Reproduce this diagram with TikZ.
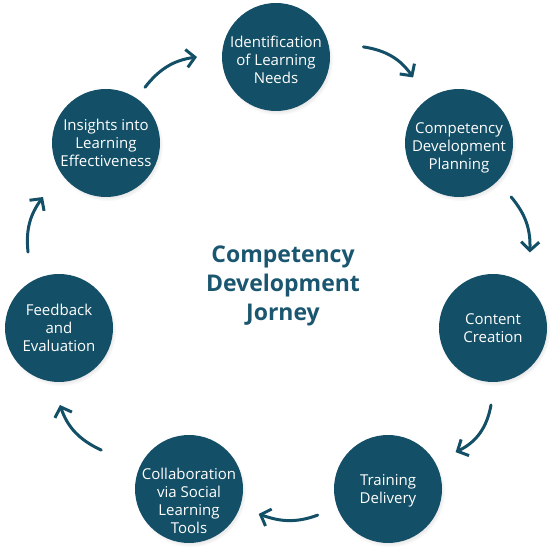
\documentclass[tikz,border=0pt]{standalone}
\usepackage{fontspec}
\setmainfont{Open Sans}
\usetikzlibrary{arrows.meta,calc,shadows}
\definecolor{deepteal}{HTML}{134F66}
\definecolor{titleteal}{HTML}{1B5670}
\tikzset{
  stage/.style={circle, fill=deepteal, minimum size=108pt, inner sep=0pt,
    text=white, align=center, font=\fontsize{15}{18}\selectfont,
    circular drop shadow={shadow xshift=1.5pt, shadow yshift=-2.5pt, shadow scale=1.03, opacity=0.3}},
  stagetext/.style={text=white, align=center, font=\fontsize{15}{18}\selectfont, inner sep=0pt},
  flow/.style={draw=deepteal, line width=3pt, line cap=round,
    -{Straight Barb[length=8.5pt, width=18pt]}}
}
\begin{document}
\begin{tikzpicture}[x=1pt, y=1pt]
    \useasboundingbox (0,0) rectangle (553,553);
    \node[stage, label={[stagetext, yshift=-3pt]center:Identification\\of Learning\\Needs}] (ident) at (276,496) {};
    \node[stage, label={[stagetext, yshift=-5pt]center:Competency\\Development\\Planning}] (plan) at (459,410) {};
    \node[stage] (content) at (493,225) {Content\\Creation};
    \node[stage, label={[stagetext, yshift=-1.5pt]center:Training\\Delivery}] (train) at (388,64) {};
    \node[stage, label={[stagetext, yshift=-11.5pt]center:Collaboration\\via Social\\Learning\\Tools}] (collab) at (189,64) {};
    \node[stage] (feed) at (59,225) {Feedback\\and\\Evaluation};
    \node[stage] (insight) at (106,410) {Insights into\\Learning\\Effectiveness};

    \node[font=\fontsize{23}{29}\selectfont\bfseries, text=titleteal, align=center] (title) at (283,267) {Competency\\Development\\Jorney};

    \draw[flow] ($(insight)+(55:68)$) to[out=52, in=188] ($(ident)+(180:79)$);
    \draw[flow] ($(ident)+(6.6:88)$) to[out=-9, in=125] ($(plan)+(125:80)$);
    \draw[flow] ($(plan)+(-46:75)$) to[out=-50, in=88] ($(content)+(64:84)$);
    \draw[flow] ($(content)+(-91.5:77)$) to[out=-100, in=26] ($(train)+(28.6:77)$);
    \draw[flow] ($(train)+(200.4:75)$) to[out=200, in=-20] ($(collab)+(-19.7:74)$);
    \draw[flow] ($(collab)+(156.1:96)$) to[out=155, in=-71] ($(feed)+(-89.3:77)$);
    \draw[flow] ($(feed)+(112.2:82)$) to[out=96, in=234] ($(insight)+(220.6:83)$);
\end{tikzpicture}
\end{document}
